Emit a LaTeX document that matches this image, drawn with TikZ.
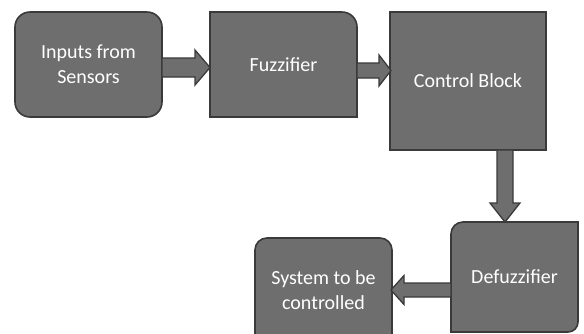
\documentclass[tikz,border=0pt]{standalone}
\usepackage{fontspec}
\setmainfont{Carlito}
\usetikzlibrary{calc}
\pgfdeclarelayer{bg}
\pgfsetlayers{bg,main}

\definecolor{boxgray}{HTML}{6E6E6E}
\definecolor{edgegray}{HTML}{3A3A3A}

\tikzset{
  label box/.style={rectangle, inner sep=0pt, outer sep=0pt, text=white,
    align=center, font=\fontsize{20}{25}\selectfont},
  box outline/.style={fill=boxgray, draw=edgegray, line width=1.6pt},
  block arrow/.style={fill=boxgray, draw=edgegray, line width=1.3pt, line join=miter},
}

% thick outlined arrow from #1 to #2: shaft half-width #3, head half-width #4, head length #5
\newcommand\blockarrow[5]{%
  \path ($(#2)!#5!(#1)$) coordinate (ba-h);
  \draw[block arrow]
    ($(#1)!#3!90:(#2)$) -- ($(ba-h)!#3!-90:(#1)$) -- ($(ba-h)!#4!-90:(#1)$)
    -- (#2) -- ($(ba-h)!#4!90:(#1)$) -- ($(ba-h)!#3!90:(#1)$)
    -- ($(#1)!#3!-90:(#2)$) -- cycle;
}

\begin{document}
\begin{tikzpicture}[x=1pt, y=1pt]
  \useasboundingbox (0,0) rectangle (584,-333);
  \clip (0,0) rectangle (584,-333);

  % blocks
  \node[label box, minimum width=147pt, minimum height=105pt] (inp) at (88.5,-64.5) {Inputs from\\Sensors};
  \node[label box, minimum width=147pt, minimum height=105pt] (fuz) at (283.5,-64.5) {Fuzzifier};
  \node[label box, minimum width=156pt, minimum height=138pt] (ctl) at (468,-81) {Control Block};
  \node[label box, minimum width=127pt, minimum height=110pt] (dfz) at (514.5,-277) {Defuzzifier};
  \node[label box, minimum width=137pt, minimum height=104pt] (sys) at (323.5,-290) {System to be\\controlled};

  % page background and block outlines behind the labels
  \begin{pgfonlayer}{bg}
    \fill[white] (0,0) rectangle (584,-333);
    \draw[box outline, rounded corners=15pt] (inp.south west) rectangle (inp.north east);
    \draw[box outline] (fuz.south west) -- (fuz.north west)
      -- ([xshift=-15pt]fuz.north east) arc[start angle=90, end angle=0, radius=15pt]
      -- (fuz.south east) -- cycle;
    \draw[box outline] (ctl.south west) rectangle (ctl.north east);
    \draw[box outline] (dfz.south west) -- ([yshift=-12pt]dfz.north west)
      arc[start angle=180, end angle=90, radius=12pt] -- (dfz.north east)
      -- ([yshift=10pt]dfz.south east) arc[start angle=0, end angle=-90, radius=10pt]
      -- cycle;
    \draw[box outline] (sys.south west) -- ([yshift=-12pt]sys.north west)
      arc[start angle=180, end angle=90, radius=12pt]
      -- ([xshift=-12pt]sys.north east) arc[start angle=90, end angle=0, radius=12pt]
      -- (sys.south east) -- cycle;
  \end{pgfonlayer}

  % connector end points
  \coordinate (a1s) at ($(inp.east)+(0,-3)$);
  \coordinate (a1e) at ($(fuz.west)+(0,-3)$);
  \coordinate (a2s) at ($(fuz.east)+(0,-6)$);
  \coordinate (a2e) at ($(ctl.west)+(1,10.5)$);
  \coordinate (a3s) at ($(ctl.south)+(37,0)$);
  \coordinate (a3e) at ($(dfz.north)+(-9.5,0)$);
  \coordinate (a4s) at ($(dfz.west)+(0,-13)$);
  \coordinate (a4e) at ($(sys.east)+(-1,0)$);

  % connectors
  \blockarrow{a1s}{a1e}{9.5pt}{17.5pt}{15pt}
  \blockarrow{a2s}{a2e}{7.5pt}{15.5pt}{12pt}
  \blockarrow{a3s}{a3e}{8pt}{15pt}{19pt}
  \blockarrow{a4s}{a4e}{7pt}{14.5pt}{13pt}
\end{tikzpicture}
\end{document}
